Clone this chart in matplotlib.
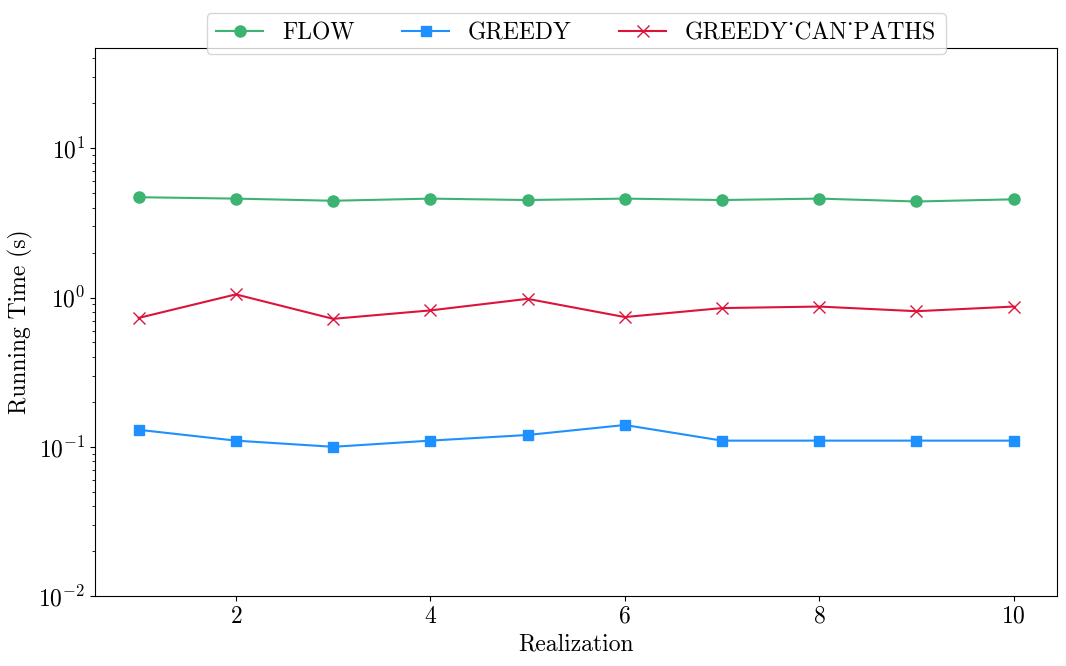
import matplotlib.pyplot as plt

plt.rcParams['font.family'] = ['cmr10', 'DejaVu Serif']
plt.rcParams['mathtext.fontset'] = 'cm'
plt.rcParams['axes.formatter.use_mathtext'] = True

realization = [1, 2, 3, 4, 5, 6, 7, 8, 9, 10]
flow = [4.7, 4.6, 4.45, 4.6, 4.5, 4.6, 4.5, 4.6, 4.4, 4.55]
greedy = [0.13, 0.11, 0.10, 0.11, 0.12, 0.14, 0.11, 0.11, 0.11, 0.11]
greedy_can_paths = [0.73, 1.05, 0.72, 0.82, 0.98, 0.74, 0.85, 0.87, 0.81, 0.87]

fig, ax = plt.subplots(figsize=(10.66, 6.66), dpi=100)
ax.plot(realization, flow, marker='o', color='mediumseagreen', markersize=8, label='FLOW')
ax.plot(realization, greedy, marker='s', color='dodgerblue', markersize=7, label='GREEDY')
ax.plot(realization, greedy_can_paths, marker='x', color='crimson', markersize=8, label='GREEDY_CAN_PATHS')

ax.set_yscale('log')
ax.set_ylim(1e-2, 47)
ax.set_xlabel('Realization', fontsize=17)
ax.set_ylabel('Running Time (s)', fontsize=17)
ax.tick_params(labelsize=17)
ax.legend(loc='upper center', bbox_to_anchor=(0.5, 1.085), ncol=3, fontsize=17)

fig.subplots_adjust(left=0.089, right=0.992, top=0.928, bottom=0.105)
fig.savefig('out.png', dpi=100)
